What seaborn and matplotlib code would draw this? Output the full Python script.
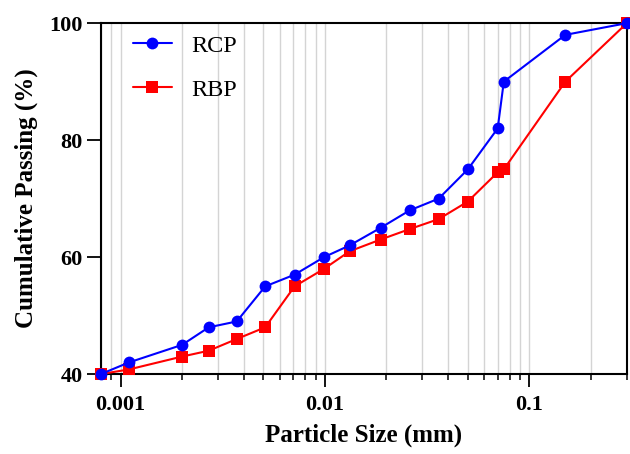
import matplotlib
matplotlib.use("Agg")
import matplotlib.pyplot as plt
import matplotlib.ticker as mticker
import numpy as np
import pandas as pd
import seaborn as sns

# particle sizes (mm), shared by both gradations
particle_size = [0.3, 0.15, 0.075, 0.07, 0.05, 0.036, 0.026, 0.0187, 0.0132,
                 0.0099, 0.0071, 0.0051, 0.0037, 0.0027, 0.002, 0.0011, 0.0008]
rcp_passing = [100, 98, 90, 82, 75, 70, 68, 65, 62, 60, 57, 55, 49, 48, 45, 42, 40]
rbp_passing = [100, 90, 75, 74.5, 69.5, 66.5, 64.8, 63, 61, 58, 55, 48, 46, 44, 43, 40.8, 40]
series_names = ["RCP", "RBP"]

df = pd.concat(
    [
        pd.DataFrame({"size": particle_size, "passing": rcp_passing, "material": "RCP"}),
        pd.DataFrame({"size": particle_size, "passing": rbp_passing, "material": "RBP"}),
    ],
    ignore_index=True,
)

sns.set_style("ticks")
plt.rcParams["font.family"] = ["Liberation Serif", "DejaVu Serif"]
plt.rcParams.update({"text.color": "black", "axes.labelcolor": "black",
                     "xtick.color": "black", "ytick.color": "black"})

fig = plt.figure(figsize=(6.3, 4.54), dpi=100)
ax = fig.add_axes([0.160, 0.176, 0.835, 0.773])

palette = {"RCP": "#0000ff", "RBP": "#ff0000"}
markers = {"RCP": "o", "RBP": "s"}
# red first so blue sits on top where they overlap
for name, z in [("RBP", 3), ("RCP", 4)]:
    sub = df[df["material"] == name]
    sns.lineplot(data=sub, x="size", y="passing", ax=ax, color=palette[name],
                 marker=markers[name], markersize=8.5 if name == "RCP" else 8,
                 markeredgewidth=0, linewidth=1.5, sort=False, label=name,
                 zorder=z, clip_on=False)

ax.set_xscale("log")
ax.set_xlim(0.0008, 0.3)
ax.set_ylim(40, 100)
ax.set_yticks([40, 60, 80, 100])
ax.xaxis.set_major_locator(mticker.LogLocator(base=10, numticks=10))
ax.xaxis.set_minor_locator(mticker.LogLocator(base=10, subs=np.arange(2, 10), numticks=20))
ax.xaxis.set_major_formatter(mticker.FuncFormatter(lambda v, _: f"{v:g}"))
ax.xaxis.set_minor_formatter(mticker.NullFormatter())

ax.grid(True, axis="x", which="both", color="#d4d4d4", linewidth=1.0, zorder=0)
ax.grid(False, axis="y")
ax.set_axisbelow(True)

for side in ["left", "right", "top", "bottom"]:
    ax.spines[side].set_visible(True)
    ax.spines[side].set_linewidth(1.5)
    ax.spines[side].set_color("black")

ax.tick_params(axis="x", which="major", direction="out", length=9, width=1.3, pad=6,
               labelsize=16, colors="black")
ax.tick_params(axis="x", which="minor", direction="out", length=4.5, width=1.1, colors="black")
ax.tick_params(axis="y", which="major", direction="out", length=10, width=1.3, pad=3,
               labelsize=16, colors="black")
for lab in ax.get_xticklabels() + ax.get_yticklabels():
    lab.set_fontweight("bold")

ax.set_xlabel("Particle Size (mm)", fontsize=18, fontweight="bold", labelpad=6, color="black")
ax.set_ylabel("Cumulative Passing (%)", fontsize=18, fontweight="bold", labelpad=8, color="black")

handles, labels = ax.get_legend_handles_labels()
order = [labels.index(n) for n in series_names]
leg = ax.legend([handles[i] for i in order], [labels[i] for i in order],
                loc="upper left", bbox_to_anchor=(0.061, 0.967), frameon=False,
                fontsize=17.5, handlelength=1.6, handletextpad=0.8,
                labelspacing=0.9, borderaxespad=0, borderpad=0)
for t in leg.get_texts():
    t.set_color("black")

fig.savefig("out.png", dpi=100)
